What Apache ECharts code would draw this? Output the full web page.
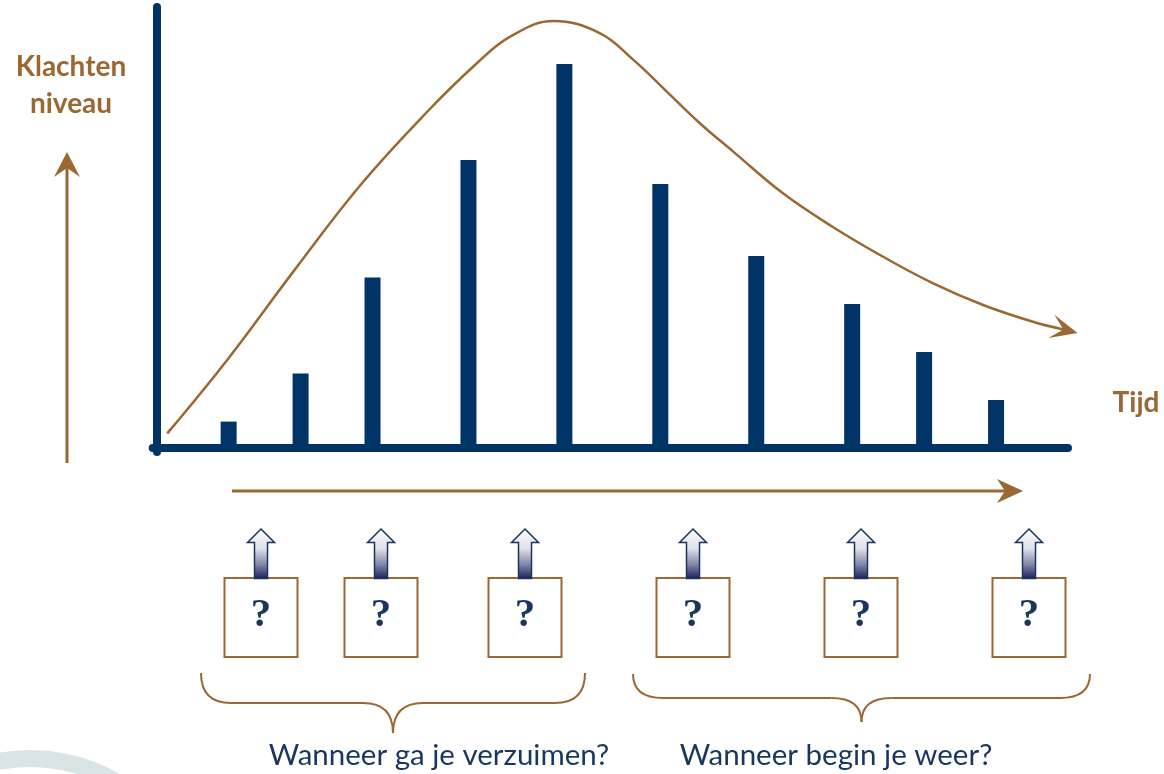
<!DOCTYPE html>
<html>
<head>
<meta charset="utf-8">
<script src="https://cdn.jsdelivr.net/npm/echarts@6/dist/echarts.min.js"></script>
<style>
html,body{margin:0;padding:0;background:#ffffff;}
#c{width:1164px;height:774px;}
</style>
</head>
<body>
<div id="c"></div>
<script>
// ---------- data ----------
const timePositions   = [3, 6, 9, 13, 17, 21, 25, 29, 32, 35];
const complaintLevels = [1.1, 3.1, 7.1, 12, 16, 11, 8, 6, 4, 2];
const curveX = [0.44, 2.94, 5.72, 8.49, 11.27, 13.35, 14.74, 16.54, 18.49, 19.88, 21.27, 22.66, 24.04, 26.13, 28.21, 30.29, 32.38, 34.46, 36.54, 37.85];
const curveY = [0.61, 3.67, 7.38, 10.95, 14.0, 16.03, 17.14, 17.79, 17.28, 16.17, 14.85, 13.52, 12.35, 10.6, 9.2, 7.97, 6.86, 5.96, 5.26, 4.93];
const yAxisTitle = ['Klachten', 'niveau'];
const xAxisTitle = 'Tijd';
const boxLabels = ['?', '?', '?', '?', '?', '?'];
const braceLabels = ['Wanneer ga je verzuimen?', 'Wanneer begin je weer?'];

// ---------- styling / layout ----------
const NAVY = '#003366';
const BROWN = '#9B6733';
const TEXT_NAVY = '#17375E';
const boxCenters = [261, 381, 525, 693, 861, 1029];
const braceLayout = [
  {l: 201, r: 585, top: 673, mid: 703, tip: 733, lx: 439},
  {l: 633, r: 1090, top: 674, mid: 698, tip: 722, lx: 836}
];
const ARROW_PATH = 'path://M12,0L24,26L12,14L0,26Z';

const chart = echarts.init(document.getElementById('c'), null, {renderer: 'canvas'});

const curveData = curveX.map((x, i) => {
  const last = i === curveX.length - 1;
  return last
    ? {value: [x, curveY[i]], symbol: ARROW_PATH, symbolSize: [24, 27], symbolRotate: -104.5,
       itemStyle: {color: BROWN, borderWidth: 0}}
    : {value: [x, curveY[i]], symbol: 'none'};
});

function braceGraphics(b) {
  const c = (b.l + b.r) / 2, rx = 30;
  const st = {fill: null, stroke: BROWN, lineWidth: 2};
  const q = (x1, y1, cx, cy, x2, y2) => ({type: 'bezierCurve', shape: {x1, y1, cpx1: cx, cpy1: cy, x2, y2}, style: st, silent: true});
  const l = (x1, y1, x2, y2) => ({type: 'line', shape: {x1, y1, x2, y2}, style: st, silent: true});
  return [
    q(b.l, b.top, b.l, b.mid, b.l + rx, b.mid),
    l(b.l + rx, b.mid, c - rx, b.mid),
    q(c - rx, b.mid, c, b.mid, c, b.tip),
    q(c, b.tip, c, b.mid, c + rx, b.mid),
    l(c + rx, b.mid, b.r - rx, b.mid),
    q(b.r - rx, b.mid, b.r, b.mid, b.r, b.top)
  ];
}

function arrowHead(tipX, tipY, dirDeg, len, halfW, notch) {
  const a = dirDeg * Math.PI / 180;
  const ux = Math.cos(a), uy = Math.sin(a), px = -uy, py = ux;
  const bx = tipX - ux * len, by = tipY - uy * len;
  return {type: 'polygon', shape: {points: [
    [tipX, tipY],
    [bx + px * halfW, by + py * halfW],
    [tipX - ux * notch, tipY - uy * notch],
    [bx - px * halfW, by - py * halfW]
  ]}, style: {fill: BROWN}, silent: true};
}

const graphics = [];
// faint watermark ring bottom-left
graphics.push({type: 'ring', shape: {cx: 30, cy: 930, r: 180, r0: 163}, style: {fill: '#DAE3E6'}, z: -10, silent: true});
// vertical axis arrow (left)
graphics.push({type: 'line', shape: {x1: 67, y1: 463, x2: 67, y2: 168}, style: {stroke: BROWN, lineWidth: 3}, silent: true});
graphics.push(arrowHead(67, 152, -90, 25, 13, 16));
// time arrow
graphics.push({type: 'line', shape: {x1: 232, y1: 491, x2: 1008, y2: 491}, style: {stroke: BROWN, lineWidth: 3}, silent: true});
graphics.push(arrowHead(1023, 491, 0, 26, 12, 18));
// titles
graphics.push({type: 'text', x: 71, y: 66.5, style: {text: yAxisTitle[0], font: 'bold 28px Lato', fill: BROWN, align: 'center', verticalAlign: 'middle'}, silent: true});
graphics.push({type: 'text', x: 71, y: 104, style: {text: yAxisTitle[1], font: 'bold 28px Lato', fill: BROWN, align: 'center', verticalAlign: 'middle'}, silent: true});
graphics.push({type: 'text', x: 1136, y: 403, style: {text: xAxisTitle, font: 'bold 28px Lato', fill: BROWN, align: 'center', verticalAlign: 'middle'}, silent: true});
// boxes with question marks and up arrows
boxCenters.forEach((cx, i) => {
  graphics.push({type: 'rect', shape: {x: cx - 36.5, y: 578, width: 73, height: 79}, style: {fill: '#ffffff', stroke: BROWN, lineWidth: 2}, silent: true});
  graphics.push({type: 'text', x: cx, y: 615, style: {text: boxLabels[i], font: 'bold 41px "Liberation Serif"', fill: TEXT_NAVY, align: 'center', verticalAlign: 'middle'}, silent: true});
  graphics.push({type: 'polygon', shape: {points: [
      [cx, 529], [cx + 13.5, 542.5], [cx + 6.5, 542.5], [cx + 6.5, 578.5],
      [cx - 6.5, 578.5], [cx - 6.5, 542.5], [cx - 13.5, 542.5]
    ]},
    style: {
      fill: new echarts.graphic.LinearGradient(0, 0, 0, 1, [
        {offset: 0, color: '#ffffff'},
        {offset: 0.4, color: '#dfe1e9'},
        {offset: 0.72, color: '#7f83a6'},
        {offset: 1, color: '#1b1a5a'}
      ]),
      stroke: TEXT_NAVY, lineWidth: 1.5
    }, silent: true});
});
// braces and their captions
braceLayout.forEach((b, i) => {
  braceGraphics(b).forEach(g => graphics.push(g));
  graphics.push({type: 'text', x: b.lx, y: 755, style: {text: braceLabels[i], font: '29.5px Lato', fill: TEXT_NAVY, align: 'center', verticalAlign: 'middle'}, silent: true});
});

const option = {
  animation: false,
  backgroundColor: '#ffffff',
  grid: {left: 152.7, right: 96, top: 7, bottom: 322, containLabel: false},
  xAxis: {
    type: 'value', min: -1 / 6, max: 38,
    axisLine: {show: true, onZero: true, lineStyle: {color: NAVY, width: 8}},
    axisTick: {show: false}, axisLabel: {show: false}, splitLine: {show: false}
  },
  yAxis: {
    type: 'value', min: -1 / 6, max: 18.375,
    axisLine: {show: true, onZero: true, lineStyle: {color: NAVY, width: 8}},
    axisTick: {show: false}, axisLabel: {show: false}, splitLine: {show: false}
  },
  series: [
    {
      type: 'bar',
      data: timePositions.map((x, i) => [x, complaintLevels[i]]),
      barWidth: 16,
      itemStyle: {color: NAVY},
      silent: true,
      z: 2
    },
    {
      type: 'line',
      data: curveData,
      smooth: 0.4,
      showSymbol: true,
      symbol: ARROW_PATH,
      lineStyle: {color: BROWN, width: 2.5},
      itemStyle: {color: BROWN},
      clip: false,
      silent: true,
      z: 3
    }
  ],
  graphic: graphics
};
chart.setOption(option);
</script>
</body>
</html>
